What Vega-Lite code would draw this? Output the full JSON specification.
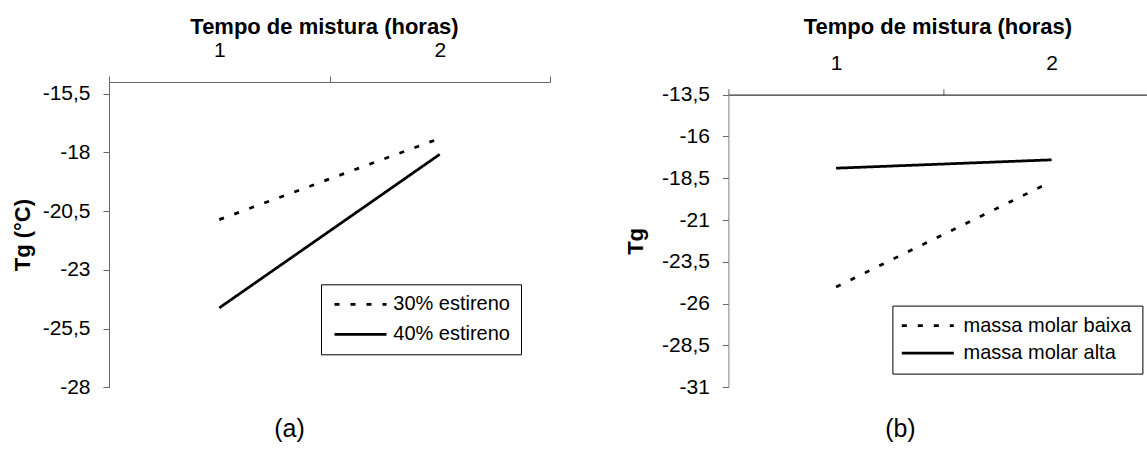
{
  "$schema": "https://vega.github.io/schema/vega-lite/v6.json",
  "background": "white",
  "padding": {"left": 11, "top": 15, "right": 0, "bottom": 0},
  "spacing": 178.4,
  "bounds": "flush",
  "resolve": {"scale": {"strokeDash": "independent"}, "legend": {"strokeDash": "independent"}},
  "config": {
    "font": "Liberation Sans",
    "view": {"stroke": null},
    "axis": {"grid": false, "labelColor": "black", "titleColor": "black", "labelFont": "Liberation Sans", "titleFont": "Liberation Sans", "labelFontSize": 21, "titleFontSize": 22, "titleFontWeight": "bold", "labelFlush": false, "labelOverlap": false}
  },
  "hconcat": [
    {
      "width": 441,
      "height": 305.3,
      "title": {"text": "(a)", "orient": "bottom", "fontSize": 25, "fontWeight": "normal", "color": "black", "offset": 20, "dx": -40},
      "data": {"values": [
        {"serie": "30% estireno", "horas": 1, "tg": -20.86},
        {"serie": "30% estireno", "horas": 2, "tg": -17.4},
        {"serie": "40% estireno", "horas": 1, "tg": -24.62},
        {"serie": "40% estireno", "horas": 2, "tg": -18.08}
      ]},
      "mark": {"type": "line", "color": "black", "strokeWidth": 2.75, "strokeCap": "butt"},
      "encoding": {
        "x": {"field": "horas", "type": "quantitative",
          "scale": {"domain": [0.5, 2.5], "nice": false, "zero": false},
          "axis": {"orient": "top", "title": "Tempo de mistura (horas)", "values": [0.5, 1, 1.5, 2, 2.5],
            "labelExpr": "datum.value == 1 ? '1' : datum.value == 2 ? '2' : ''",
            "tickSize": 6, "labelPadding": 15, "titlePadding": 1.5, "titleX": 215,
            "domainColor": "#666666", "tickColor": "#666666",
            "tickOpacity": {"condition": {"test": "datum.value == 1 || datum.value == 2", "value": 0}, "value": 1}}},
        "y": {"field": "tg", "type": "quantitative",
          "scale": {"domain": [-28, -15], "nice": false, "zero": false},
          "axis": {"title": "Tg (°C)", "values": [-28, -25.5, -23, -20.5, -18, -15.5],
            "labelExpr": "(datum.value < 0 ? '-' : '') + replace(format(abs(datum.value), '.1~f'), '.', ',')",
            "tickSize": 6, "labelPadding": 13, "titlePadding": 8,
            "domainColor": "#666666", "tickColor": "#666666"}},
        "strokeDash": {"field": "serie", "type": "nominal",
          "scale": {"domain": ["30% estireno", "40% estireno"], "range": [[5, 11], [1, 0]]},
          "legend": {"title": null, "orient": "none", "legendX": 212, "legendY": 202.3, "direction": "vertical",
            "strokeColor": "black", "fillColor": "white", "padding": 10,
            "symbolType": "M-4,0H4", "symbolSize": 169, "symbolStrokeWidth": 2.75, "symbolStrokeColor": "black",
            "symbolOffset": 19.5, "labelOffset": 22.8, "labelLimit": 400,
            "labelFontSize": 20, "labelFont": "Liberation Sans", "labelColor": "black", "rowPadding": 10}}
      }
    },
    {
      "width": 418,
      "height": 305.3,
      "title": {"text": "(b)", "orient": "bottom", "fontSize": 25, "fontWeight": "normal", "color": "black", "offset": 20, "dx": -37},
      "data": {"values": [
        {"serie": "massa molar baixa", "horas": 1, "tg": -25.0},
        {"serie": "massa molar baixa", "horas": 2, "tg": -18.7},
        {"serie": "massa molar alta", "horas": 1, "tg": -17.9},
        {"serie": "massa molar alta", "horas": 2, "tg": -17.4}
      ]},
      "mark": {"type": "line", "color": "black", "strokeWidth": 2.75, "strokeCap": "butt"},
      "encoding": {
        "x": {"field": "horas", "type": "quantitative",
          "scale": {"domain": [0.5, 2.44], "nice": false, "zero": false},
          "axis": {"orient": "top", "title": "Tempo de mistura (horas)", "values": [0.5, 1, 1.5, 2],
            "labelExpr": "datum.value == 1 ? '1' : datum.value == 2 ? '2' : ''",
            "offset": -12.6,
            "tickSize": 6, "labelPadding": 15, "titlePadding": 14.1,
            "domainColor": "black", "tickColor": "#666666",
            "tickOpacity": {"condition": {"test": "datum.value == 1 || datum.value == 2", "value": 0}, "value": 1}}},
        "y": {"field": "tg", "type": "quantitative",
          "scale": {"domain": [-31, -13.5], "nice": false, "zero": false, "range": [305.3, 12.6]},
          "axis": {"title": "Tg", "values": [-31, -28.5, -26, -23.5, -21, -18.5, -16, -13.5],
            "labelExpr": "(datum.value < 0 ? '-' : '') + replace(format(abs(datum.value), '.1~f'), '.', ',')",
            "tickSize": 6, "labelPadding": 13, "titlePadding": 14.4,
            "domainColor": "#808080", "tickColor": "#666666"}},
        "strokeDash": {"field": "serie", "type": "nominal",
          "scale": {"domain": ["massa molar baixa", "massa molar alta"], "range": [[5, 11], [1, 0]]},
          "legend": {"title": null, "orient": "none", "legendX": 164, "legendY": 223.6, "direction": "vertical",
            "strokeColor": "black", "fillColor": "white", "padding": 10,
            "symbolType": "M-4,0H4", "symbolSize": 169, "symbolStrokeWidth": 2.75, "symbolStrokeColor": "black",
            "symbolOffset": 15.4, "labelOffset": 25.8, "labelLimit": 400,
            "labelFontSize": 20, "labelFont": "Liberation Sans", "labelColor": "black", "rowPadding": 7.6}}
      }
    }
  ]
}
